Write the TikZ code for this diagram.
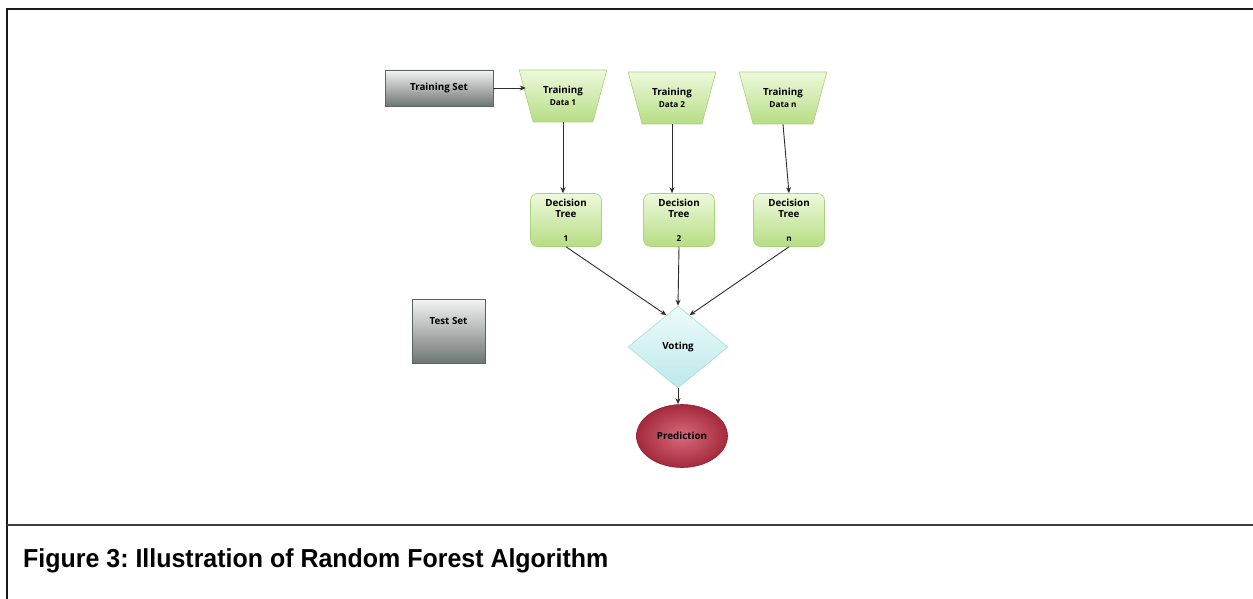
\documentclass[tikz,border=0pt]{standalone}
\usepackage{fontspec}
\setmainfont{Liberation Sans}
\newfontfamily\boxfont{Open Sans}
\usetikzlibrary{shapes.geometric,arrows.meta}
\frenchspacing
\definecolor{framegray}{HTML}{1A1A1A}
\definecolor{rulegray}{HTML}{3C3C50}
\definecolor{arrowgray}{HTML}{2E2E2E}
\definecolor{leafhi}{HTML}{EEF9DC}
\definecolor{leaflo}{HTML}{B6DD84}
\definecolor{leafedge}{HTML}{A9D27A}
\definecolor{slatehi}{HTML}{F4F4F4}
\definecolor{slatelo}{HTML}{6E7674}
\definecolor{slateedge}{HTML}{5C6462}
\definecolor{aquahi}{HTML}{ECFBFB}
\definecolor{aqualo}{HTML}{BDE8EA}
\definecolor{aquaedge}{HTML}{A9DCDD}
\definecolor{winecore}{HTML}{D86A7C}
\definecolor{wineouter}{HTML}{A42A3C}
\definecolor{wineedge}{HTML}{8E2031}
\tikzset{
  x=1pt, y=-1pt,
  boxtext/.style={font=\boxfont\bfseries\fontsize{9.8}{11.5}\selectfont, text=black, align=center},
  setbox/.style={boxtext, rectangle, draw=slateedge, line width=0.8pt,
    top color=slatehi, bottom color=slatelo, inner sep=0pt},
  databox/.style={boxtext, trapezium, shape border rotate=180,
    trapezium left angle=64, trapezium right angle=64, trapezium stretches=true,
    minimum width=88pt, minimum height=52pt, inner sep=0pt,
    draw=leafedge, line width=0.6pt, top color=leafhi, bottom color=leaflo},
  treebox/.style={boxtext, rectangle, rounded corners=7pt,
    minimum width=71pt, minimum height=53pt, inner sep=0pt,
    draw=leafedge, line width=0.6pt, top color=leafhi, bottom color=leaflo},
  votebox/.style={boxtext, diamond, minimum width=100pt, minimum height=82pt,
    inner sep=0pt, aspect=1.22, draw=aquaedge, line width=0.6pt,
    top color=aquahi, bottom color=aqualo},
  predbox/.style={boxtext, ellipse, minimum width=91pt, minimum height=63pt,
    inner sep=0pt, draw=wineedge, line width=0.6pt,
    inner color=winecore, outer color=wineouter},
  flow/.style={draw=arrowgray, line width=0.9pt, -{Stealth[length=6pt,width=5pt]}},
}
\newcommand{\smalltag}[1]{{\fontsize{8.2}{10}\selectfont #1}}
\begin{document}
\begin{tikzpicture}
% page extent
\useasboundingbox (0,0) rectangle (1253,599);
\fill[white] (0,0) rectangle (1253,599);

% frame lines
\coordinate (frTL) at (7,9);
\coordinate (frTR) at (1253,9);
\coordinate (frBL) at (7,599);
\coordinate (ruleL) at (7,525);
\coordinate (ruleR) at (1253,525);
\draw[framegray, line width=1.1pt] (frTR) -- (frTL) -- (frBL);
\draw[rulegray, line width=1.1pt] (ruleL) -- (ruleR);

% inputs
\node[setbox, minimum width=108pt, minimum height=36pt] (train) at (439,88) {Training Set};
\node[setbox, minimum width=73pt, minimum height=64pt, text depth=0pt] (test) at (448.5,331)
  {\raisebox{21pt}{Test Set}};

% bootstrap samples
\node[databox] (d1) at (563,96) {Training\\[0pt]\smalltag{Data 1}};
\node[databox] (d2) at (672,98) {Training\\[0pt]\smalltag{Data 2}};
\node[databox] (dn) at (783,98) {Training\\[0pt]\smalltag{Data n}};

% trees
\node[treebox] (t1) at (566,220) {Decision\\Tree\\[12pt]\smalltag{1}};
\node[treebox] (t2) at (679,220) {Decision\\Tree\\[12pt]\smalltag{2}};
\node[treebox] (tn) at (789,220) {Decision\\Tree\\[12pt]\smalltag{n}};

% aggregation and output
\node[votebox] (vote) at (678,347) {Voting};
\node[predbox] (pred) at (682,436) {Prediction};

% connectors
\draw[flow] (train.east) -- (d1.west |- train.east);
\draw[flow] (d1.south) -- (d1.south |- t1.north);
\draw[flow] (d2.south) -- (d2.south |- t2.north);
\draw[flow] (dn.south) -- (tn.north);
\draw[flow] (t1.south) -- (vote.110);
\draw[flow] (t2.south) -- (vote.north);
\draw[flow] (tn.south) -- (vote.70);
\draw[flow] (vote.south) -- (vote.south |- pred.north);

% caption
\node[anchor=base west, inner sep=0pt, font=\bfseries\fontsize{26}{30}\selectfont]
  (caption) at (23,567) {\scalebox{0.96}[1]{Figure 3: Illustration of Random Forest Algorithm}};
\end{tikzpicture}
\end{document}
